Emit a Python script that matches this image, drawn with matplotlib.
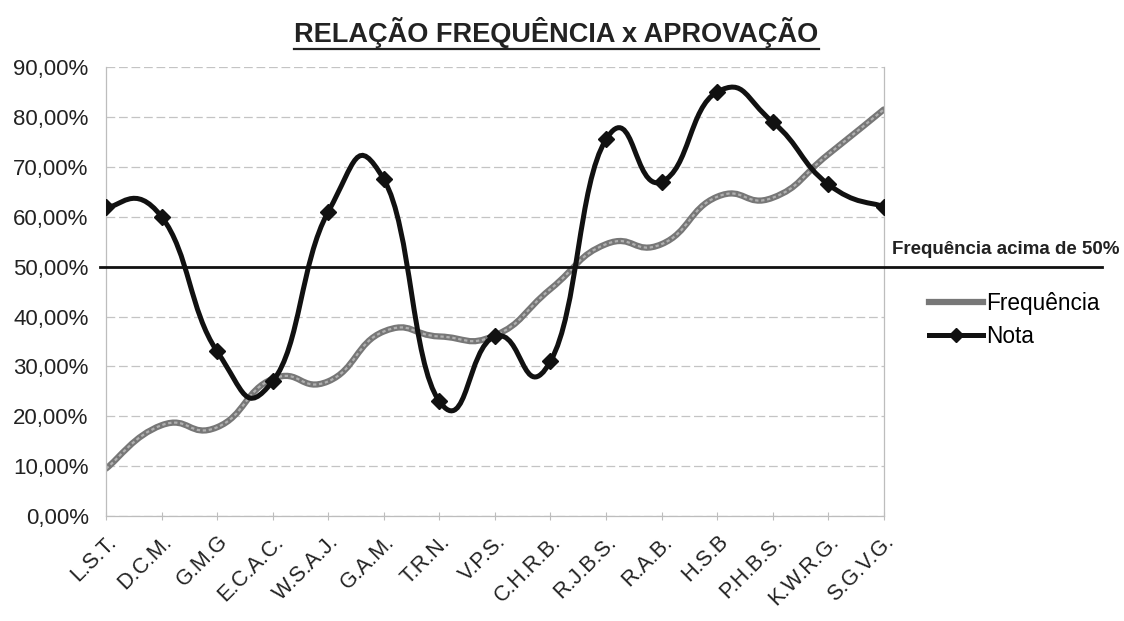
import matplotlib
matplotlib.use("Agg")
import matplotlib.pyplot as plt
from matplotlib.path import Path
from matplotlib.patches import PathPatch
from matplotlib.lines import Line2D
import matplotlib.transforms as mtransforms

plt.rcParams['font.family'] = ['Liberation Sans', 'DejaVu Sans']

# dados
alunos = ["L.S.T.", "D.C.M.", "G.M.G", "E.C.A.C.", "W.S.A.J.", "G.A.M.", "T.R.N.",
          "V.P.S.", "C.H.R.B.", "R.J.B.S.", "R.A.B.", "H.S.B", "P.H.B.S.", "K.W.R.G.", "S.G.V.G."]
frequencia = [9.5, 18.2, 17.8, 27.5, 27.0, 37.0, 36.0, 36.2, 45.5, 54.5, 54.5, 64.0, 63.8, 72.5, 81.5]
nota = [62.0, 60.0, 33.0, 27.0, 61.0, 67.5, 23.0, 36.0, 31.0, 75.5, 67.0, 85.0, 79.0, 66.5, 62.0]
limite = 50
yticks = [0, 10, 20, 30, 40, 50, 60, 70, 80, 90]


def curva_suave(xs, ys, k=0.25):
    # curva bezier estilo "linha suavizada" do Excel
    n = len(xs)
    verts = [(xs[0], ys[0])]
    codes = [Path.MOVETO]
    for i in range(n - 1):
        a = i - 1 if i > 0 else i
        b = i + 2 if i + 2 < n else i + 1
        c1 = (xs[i] + k * (xs[i + 1] - xs[a]), ys[i] + k * (ys[i + 1] - ys[a]))
        c2 = (xs[i + 1] - k * (xs[b] - xs[i]), ys[i + 1] - k * (ys[b] - ys[i]))
        verts += [c1, c2, (xs[i + 1], ys[i + 1])]
        codes += [Path.CURVE4] * 3
    return Path(verts, codes)


x = list(range(len(alunos)))

fig = plt.figure(figsize=(11.24, 6.21), dpi=100)
ax = fig.add_axes([0.0943, 0.169, 0.692, 0.723])

ax.set_xlim(0, len(alunos) - 1)
ax.set_ylim(0, 90)

# grade
for v in yticks:
    ax.axhline(v, color='#c4c4c4', lw=0.9, ls=(0, (7, 3)), zorder=0)

ax.spines['top'].set_visible(False)
for s in ['left', 'right', 'bottom']:
    ax.spines[s].set_color('#bdbdbd')
    ax.spines[s].set_linewidth(0.9)

ax.set_yticks(yticks)
ax.set_yticklabels([f"{v:.2f}%".replace('.', ',') for v in yticks], fontsize=16, color='#222222')
ax.set_xticks(x)
ax.set_xticklabels(alunos, rotation=45, ha='right', rotation_mode='anchor', fontsize=15.5, color='#222222')
ax.tick_params(axis='y', length=0, pad=12.5)
ax.tick_params(axis='x', length=6, color='#bdbdbd', direction='inout', pad=8)

# frequencia (cinza, com textura pontilhada)
ax.add_patch(PathPatch(curva_suave(x, frequencia), fill=False, edgecolor='#777777', lw=4.5,
                       capstyle='round', zorder=2))
ax.add_patch(PathPatch(curva_suave(x, frequencia), fill=False, edgecolor='#b0b0b0', lw=1.6,
                       ls=(0, (1.5, 1.2)), zorder=2))

# nota (preto)
ax.add_patch(PathPatch(curva_suave(x, nota), fill=False, edgecolor='#111111', lw=3.6,
                       capstyle='round', zorder=3))
ax.plot(x, nota, ls='none', marker='D', ms=8, color='#111111', zorder=4)

# linha de 50%
trans = mtransforms.blended_transform_factory(ax.transAxes, ax.transData)
ax.plot([-0.008, 1.28], [limite, limite], color='#111111', lw=2, transform=trans, clip_on=False, zorder=3)
ax.text(1.303, limite + 1.8, "Frequência acima de 50%", transform=trans, ha='right', va='bottom',
        fontsize=13.5, fontweight='bold', color='#222222')

# legenda
h_freq = Line2D([], [], color='#777777', lw=4.5)
h_nota = Line2D([], [], color='#111111', lw=3.6, marker='D', ms=7)
fig.legend([h_freq, h_nota], ["Frequência", "Nota"], loc='center left',
           bbox_to_anchor=(0.808, 0.485), frameon=False, fontsize=16.3,
           handlelength=2.4, handletextpad=0.15, labelspacing=0.45)

# titulo sublinhado
titulo = fig.text(0.495, 0.947, "RELAÇÃO FREQUÊNCIA x APROVAÇÃO", ha='center', va='center',
                  fontsize=19.5, fontweight='bold', color='#222222')
fig.canvas.draw()
bb = titulo.get_window_extent().transformed(fig.transFigure.inverted())
fig.add_artist(Line2D([bb.x0, bb.x1], [bb.y0 - 0.001, bb.y0 - 0.001], color='#222222', lw=1.6,
                      transform=fig.transFigure))

fig.savefig("out.png", dpi=100)
